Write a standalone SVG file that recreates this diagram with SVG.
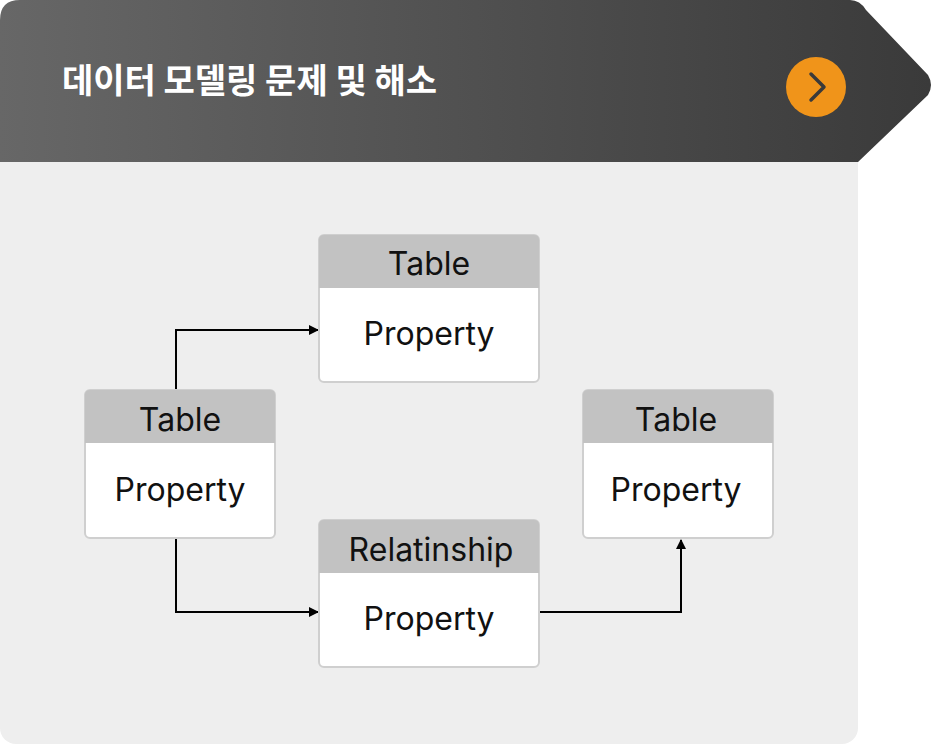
<svg xmlns="http://www.w3.org/2000/svg" width="939" height="744" viewBox="0 0 939 744">
<defs>
<linearGradient id="hg" x1="0" y1="0" x2="1" y2="0"><stop offset="0" stop-color="#676767"/><stop offset="1" stop-color="#3a3a3a"/></linearGradient>
<marker id="ar" markerWidth="10" markerHeight="10" refX="9" refY="5" orient="auto" markerUnits="userSpaceOnUse"><path d="M0,0 L10,5 L0,10 Z" fill="#000"/></marker>
<style>
.box{fill:#fff;stroke:#cfcfcf;stroke-width:2}
.hd{fill:#c2c2c2}
.t{font-family:Inter,"Noto Sans",sans-serif;font-size:32px;fill:#111;text-anchor:middle}
.c{fill:none;stroke:#000;stroke-width:2;marker-end:url(#ar)}
</style>
</defs>
<rect x="0" y="140" width="858" height="604" rx="16" fill="#eeeeee"/>
<path d="M0,20 Q0,0 20,0 H850 Q860,0 866,10 L928,75 Q934,85 928,95 L858,162 H0 Z" fill="url(#hg)"/>
<text x="62" y="93" font-family="'Noto Sans CJK KR',sans-serif" font-size="34" font-weight="700" fill="#fff">데이터 모델링 문제 및 해소</text>
<circle cx="816" cy="87" r="30" fill="#f0941a"/>
<path d="M811,74 L824,87 L811,100" fill="none" stroke="#3a3a3a" stroke-width="3.5" stroke-linecap="round" stroke-linejoin="round"/>
<g id="connectors">
<path class="c" d="M176,390 V330 H318"/>
<path class="c" d="M176,538 V612 H318"/>
<path class="c" d="M539,612 H681 V540"/>
</g>
<g id="n1"><rect class="box" x="319" y="235" width="220" height="147" rx="5"/><path class="hd" d="M324,235 H534 Q539,235 539,240 V288 H319 V240 Q319,235 324,235Z"/><text class="t" x="429" y="275">Table</text><text class="t" x="429" y="345">Property</text></g>
<g id="n2"><rect class="box" x="85" y="390" width="190" height="148" rx="5"/><path class="hd" d="M90,390 H270 Q275,390 275,395 V443 H85 V395 Q85,390 90,390Z"/><text class="t" x="180" y="431">Table</text><text class="t" x="180" y="501">Property</text></g>
<g id="n3"><rect class="box" x="583" y="390" width="190" height="148" rx="5"/><path class="hd" d="M588,390 H768 Q773,390 773,395 V443 H583 V395 Q583,390 588,390Z"/><text class="t" x="676" y="431">Table</text><text class="t" x="676" y="501">Property</text></g>
<g id="n4"><rect class="box" x="319" y="520" width="220" height="147" rx="5"/><path class="hd" d="M324,520 H534 Q539,520 539,525 V573 H319 V525 Q319,520 324,520Z"/><text class="t" x="431" y="561">Relatinship</text><text class="t" x="429" y="630">Property</text></g>
</svg>
